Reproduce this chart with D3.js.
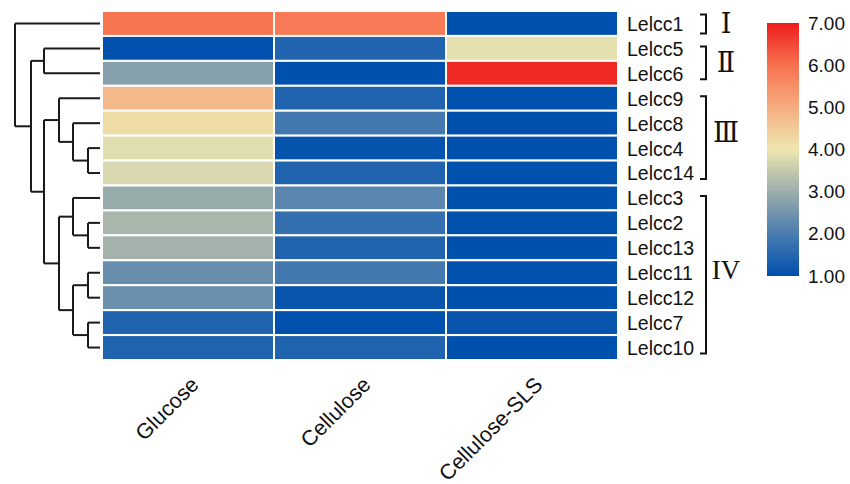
<!DOCTYPE html>
<html>
<head>
<meta charset="utf-8">
<script src="https://cdn.jsdelivr.net/npm/d3@7"></script>
<style>
  html, body { margin: 0; padding: 0; background: #fff; }
  svg { display: block; }
  text { font-family: "Liberation Sans", Arial, sans-serif; fill: #111; }
</style>
</head>
<body>
<svg id="chart" width="850" height="484"></svg>
<script>
// Treatments (columns) and genes (rows, in dendrogram leaf order)
const conditions = ["Glucose", "Cellulose", "Cellulose-SLS"];
const genes = ["Lelcc1", "Lelcc5", "Lelcc6", "Lelcc9", "Lelcc8", "Lelcc4", "Lelcc14",
               "Lelcc3", "Lelcc2", "Lelcc13", "Lelcc11", "Lelcc12", "Lelcc7", "Lelcc10"];

// Relative expression per condition, one value per gene (same order as genes)
const glucose      = [5.95, 1.00, 2.73, 4.80, 4.20, 3.84, 3.74, 2.95, 3.15, 3.09, 2.37, 2.40, 1.43, 1.43];
const cellulose    = [5.85, 1.45, 1.00, 1.43, 1.90, 1.10, 1.43, 2.20, 1.70, 1.43, 1.90, 1.12, 1.00, 1.43];
const celluloseSLS = [1.00, 3.90, 6.85, 1.00, 1.00, 1.00, 1.00, 1.00, 1.00, 1.00, 1.00, 1.00, 1.12, 1.00];
const seriesValues = [glucose, cellulose, celluloseSLS];

// Colour legend
const legendTicks = [1, 2, 3, 4, 5, 6, 7];
const colorStops = ["#0050ae", "#4a7cb0", "#9cadab", "#ede6b0", "#f6ad80", "#f8714f", "#ed1c1c"];

// Hierarchical clustering of genes: [height, left, right]
const tree = [85,
  "Lelcc1",
  [69,
    [56, "Lelcc5", "Lelcc6"],
    [56,
      [41, "Lelcc9", [27, "Lelcc8", [12, "Lelcc4", "Lelcc14"]]],
      [41,
        [27, "Lelcc3", [12, "Lelcc2", "Lelcc13"]],
        [27, [12, "Lelcc11", "Lelcc12"], [12, "Lelcc7", "Lelcc10"]]
      ]
    ]
  ]
];

// Gene groups marked with brackets on the right
const groupLabels = ["Ⅰ", "Ⅱ", "Ⅲ", "IV"];
const groupFirst  = ["Lelcc1", "Lelcc5", "Lelcc9", "Lelcc3"];
const groupLast   = ["Lelcc1", "Lelcc6", "Lelcc14", "Lelcc10"];

const svg = d3.select("#chart");

// Scales
const x = d3.scaleBand().domain(conditions).range([102, 618]).padding(0);
const y = d3.scaleBand().domain(genes).range([11, 360]).padding(0);
const color = d3.scaleLinear().domain(legendTicks).range(colorStops).clamp(true);
const treeX = d3.scaleLinear().domain([0, 85]).range([100, 15]);

// Heatmap cells
const cells = [];
conditions.forEach((c, ci) => genes.forEach((g, gi) => cells.push({ c, g, v: seriesValues[ci][gi] })));

svg.append("g").selectAll("rect").data(cells).join("rect")
  .attr("x", d => x(d.c))
  .attr("y", d => y(d.g))
  .attr("width", x.bandwidth())
  .attr("height", y.bandwidth())
  .attr("fill", d => color(d.v))
  .attr("stroke", "#ffffff")
  .attr("stroke-width", 2);

// Row labels
svg.append("g").selectAll("text").data(genes).join("text")
  .attr("x", 627)
  .attr("y", d => y(d) + y.bandwidth() / 2)
  .attr("dy", "0.38em")
  .attr("font-size", 19.5)
  .text(d => d);

// Column labels, rotated
svg.append("g").selectAll("text").data(conditions).join("text")
  .attr("transform", d => `translate(${x(d) + x.bandwidth() / 2 + 12},386) rotate(-45)`)
  .attr("text-anchor", "end")
  .attr("font-size", 21.5)
  .text(d => d);

// Dendrogram
const root = d3.hierarchy(tree, d => Array.isArray(d) ? d.slice(1) : null);
root.eachAfter(n => {
  if (n.children) {
    n.h = n.data[0];
    n.cy = (n.children[0].cy + n.children[n.children.length - 1].cy) / 2;
  } else {
    n.h = 0;
    n.cy = y(n.data) + y.bandwidth() / 2;
  }
});
const links = [];
root.each(n => {
  if (n.children) {
    const px = treeX(n.h);
    links.push(`M${px},${n.children[0].cy}V${n.children[n.children.length - 1].cy}`);
    n.children.forEach(ch => links.push(`M${px},${ch.cy}H${treeX(ch.h)}`));
  }
});
svg.append("g").selectAll("path").data(links).join("path")
  .attr("d", d => d)
  .attr("fill", "none")
  .attr("stroke", "#1a1a1a")
  .attr("stroke-width", 2);

// Group brackets
const groups = groupLabels.map((label, i) => {
  const y0 = y(groupFirst[i]) + y.bandwidth() / 2;
  const y1 = y(groupLast[i]) + y.bandwidth() / 2;
  const single = groupFirst[i] === groupLast[i];
  return { label, single, top: single ? y0 - 9 : y0 - 2, bottom: single ? y1 + 10 : y1 + 6 };
});
const bx = 706;
const bg = svg.append("g");
bg.selectAll("path").data(groups).join("path")
  .attr("d", d => `M${bx - 6},${d.top}H${bx}V${d.bottom}H${bx - 6}`)
  .attr("fill", "none")
  .attr("stroke", "#111")
  .attr("stroke-width", 2);
bg.selectAll("text").data(groups).join("text")
  .attr("x", bx + 20)
  .attr("y", d => (d.top + d.bottom) / 2 - (d.bottom - d.top > 80 ? 5 : 0))
  .attr("dy", "0.35em")
  .attr("text-anchor", "middle")
  .attr("font-size", 27)
  .style("font-family", "'Liberation Serif', 'DejaVu Serif', 'Times New Roman', serif")
  .text(d => d.label);

// Colour legend
const legendY = d3.scaleLinear().domain([1, 7]).range([276, 23]);
const defs = svg.append("defs");
const grad = defs.append("linearGradient").attr("id", "legendGrad")
  .attr("x1", 0).attr("y1", 1).attr("x2", 0).attr("y2", 0);
grad.selectAll("stop").data(legendTicks).join("stop")
  .attr("offset", d => (d - 1) / 6)
  .attr("stop-color", d => color(d));
svg.append("rect")
  .attr("x", 767).attr("y", legendY(7))
  .attr("width", 32).attr("height", legendY(1) - legendY(7))
  .attr("fill", "url(#legendGrad)");

const legendAxis = svg.append("g")
  .attr("transform", "translate(799,0)")
  .call(d3.axisRight(legendY).tickValues(legendTicks).tickFormat(d3.format(".2f")).tickSize(0).tickPadding(9));
legendAxis.select(".domain").remove();
legendAxis.selectAll("text")
  .attr("font-size", 19)
  .style("font-family", "'Liberation Sans', Arial, sans-serif")
  .attr("fill", "#111");
</script>
</body>
</html>
